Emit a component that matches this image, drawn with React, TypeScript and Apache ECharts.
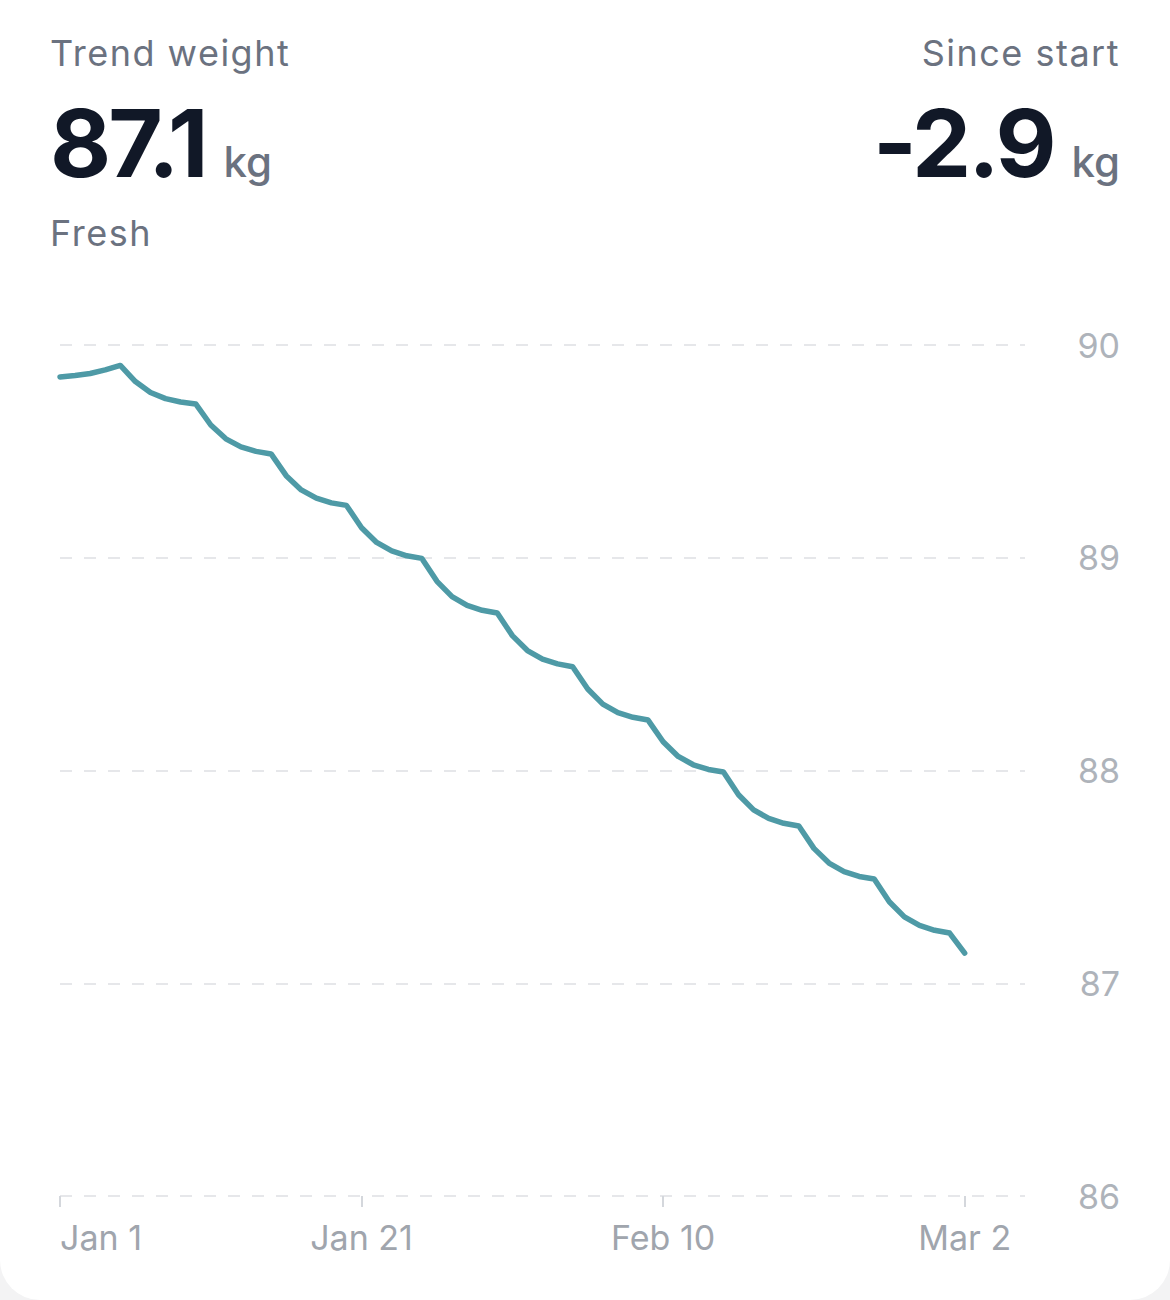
import React, { useEffect, useRef } from "react";
import * as echarts from "echarts";

// one point per day, Jan 1 .. Mar 2
const trendWeight = [
  89.85, 89.857, 89.866, 89.883, 89.904, 89.828, 89.777, 89.748, 89.732, 89.723,
  89.624, 89.559, 89.521, 89.5, 89.488, 89.386, 89.319, 89.28, 89.258, 89.246,
  89.141, 89.072, 89.032, 89.009, 88.997, 88.889, 88.817, 88.776, 88.753, 88.74,
  88.634, 88.564, 88.523, 88.501, 88.488, 88.383, 88.312, 88.272, 88.25, 88.237,
  88.135, 88.066, 88.027, 88.005, 87.993, 87.886, 87.815, 87.775, 87.752, 87.739,
  87.634, 87.565, 87.525, 87.502, 87.49, 87.383, 87.312, 87.272, 87.249, 87.236,
  87.142,
];

const monthNames = ["Jan", "Feb", "Mar", "Apr"];
const dayCount = 65; // axis runs a few days past the last point
const days: string[] = [];
for (let i = 0; i < dayCount; i++) {
  const d = new Date(2023, 0, 1 + i);
  days.push(monthNames[d.getMonth()] + " " + d.getDate());
}
const labelEvery = 20;

const yTicks = { min: 86, max: 90, step: 1 };

const summary = {
  title: "Trend weight",
  value: "87.1",
  note: "Fresh",
  changeTitle: "Since start",
  change: "-2.9",
  unit: "kg",
};

const font = "Inter, 'Noto Sans', sans-serif";

const WeightChart: React.FC = () => {
  const chartRef = useRef<HTMLDivElement>(null);

  useEffect(() => {
    if (!chartRef.current) return;
    const chart = echarts.init(chartRef.current, undefined, { renderer: "svg" });
    const showEvery = (i: number) => i % labelEvery === 0;
    chart.setOption({
      animation: false,
      grid: { left: 60, right: 145, top: 345, bottom: 104 },
      xAxis: {
        type: "category",
        data: days,
        boundaryGap: false,
        axisLine: { show: false },
        axisTick: {
          show: true,
          interval: showEvery,
          length: 11,
          lineStyle: { color: "#d4d7dc", width: 2 },
        },
        axisLabel: {
          interval: showEvery,
          margin: 24,
          fontSize: 34,
          color: "#a0a5ad",
          fontFamily: font,
          alignMinLabel: "left",
        },
        splitLine: { show: false },
      },
      yAxis: {
        type: "value",
        position: "right",
        min: yTicks.min,
        max: yTicks.max,
        interval: yTicks.step,
        axisLine: { show: false },
        axisTick: { show: false },
        axisLabel: {
          align: "right",
          margin: 95,
          fontSize: 34,
          color: "#aeb3ba",
          fontFamily: font,
        },
        splitLine: {
          lineStyle: { color: "#e6e7ea", width: 2, type: [12, 12] },
        },
      },
      series: [
        {
          type: "line",
          data: trendWeight,
          symbol: "none",
          lineStyle: { color: "#4e9aa6", width: 5.5, cap: "round", join: "round" },
        },
      ],
    });
    return () => chart.dispose();
  }, []);

  const label: React.CSSProperties = {
    position: "absolute",
    fontSize: 36,
    lineHeight: "36px",
    color: "#6b7280",
    letterSpacing: 1.5,
    whiteSpace: "nowrap",
  };
  const bigRow: React.CSSProperties = {
    position: "absolute",
    top: 95,
    display: "flex",
    alignItems: "baseline",
    lineHeight: "96px",
    whiteSpace: "nowrap",
  };
  const big: React.CSSProperties = {
    fontSize: 94,
    fontWeight: 700,
    color: "#111827",
    letterSpacing: -3,
  };
  const unit: React.CSSProperties = {
    fontSize: 42,
    fontWeight: 500,
    color: "#6b7280",
    marginLeft: 18,
  };

  return (
    <div
      style={{
        position: "absolute",
        left: 0,
        top: 0,
        width: 1170,
        height: 1300,
        background: "#f3f3f4",
        fontFamily: font,
      }}
    >
      <div
        style={{
          position: "absolute",
          inset: 0,
          background: "#ffffff",
          borderRadius: "0 0 40px 40px",
        }}
      >
        <div ref={chartRef} style={{ position: "absolute", left: 0, top: 0, width: 1170, height: 1300 }}></div>
        <div style={{ ...label, left: 50, top: 35 }}>{summary.title}</div>
        <div style={{ ...bigRow, left: 50 }}>
          <span style={big}>{summary.value}</span>
          <span style={unit}>{summary.unit}</span>
        </div>
        <div style={{ ...label, left: 50, top: 215 }}>{summary.note}</div>
        <div style={{ ...label, right: 50, top: 35, textAlign: "right" }}>{summary.changeTitle}</div>
        <div style={{ ...bigRow, right: 50 }}>
          <span style={big}>{summary.change}</span>
          <span style={unit}>{summary.unit}</span>
        </div>
      </div>
    </div>
  );
};

export default function App() {
  return <WeightChart />;
}
